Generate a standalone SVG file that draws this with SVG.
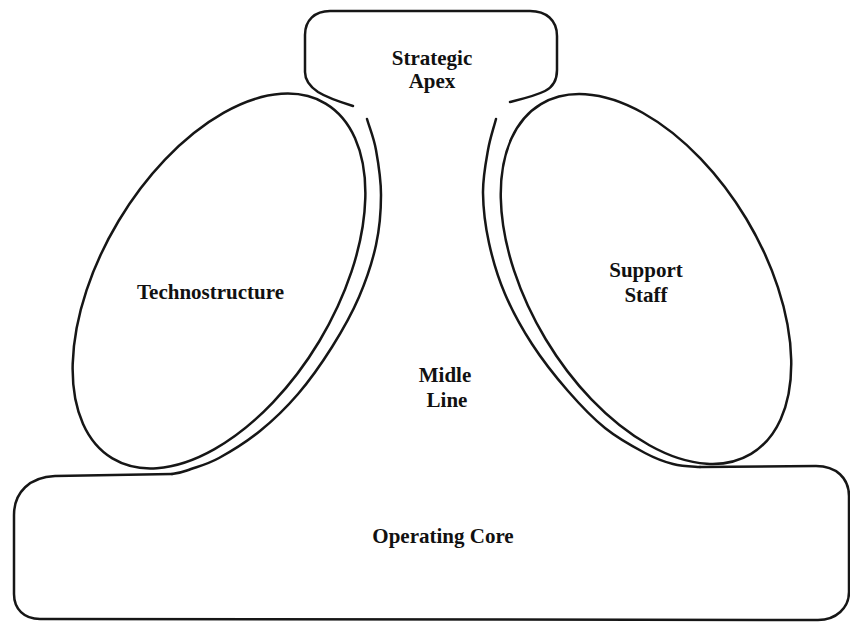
<svg xmlns="http://www.w3.org/2000/svg" width="850" height="625" viewBox="0 0 850 625">
  <style>
    .ln { fill: none; stroke: #161616; stroke-width: 2.5; stroke-linecap: round; stroke-linejoin: round; }
    .lbl { font-family: "Liberation Serif", "Times New Roman", serif; font-weight: bold; font-size: 21px; fill: #111; text-anchor: middle; }
  </style>
  <rect width="850" height="625" fill="#ffffff"/>

  <g id="strategic-apex">
    <path class="ln" d="M353,106 C340,102 326,97 318,92 C309,86 305,80 305,72 L305,35 C305,20 315,11 330,11 L530,11 C546,11 557,20 557,36 L557,70 C557,80 553,87 545,91 C535,96 522,99 510,102"/>
    <text class="lbl" x="432" y="65">Strategic</text>
    <text class="lbl" x="432" y="88">Apex</text>
  </g>

  <g id="technostructure">
    <ellipse class="ln" cx="219" cy="281" rx="117" ry="207" transform="rotate(31 219 281)"/>
    <text class="lbl" x="210.5" y="299">Technostructure</text>
  </g>

  <g id="support-staff">
    <ellipse class="ln" cx="646" cy="279" rx="117" ry="204" transform="rotate(-31 646 279)"/>
    <text class="lbl" x="646" y="277">Support</text>
    <text class="lbl" x="646" y="302">Staff</text>
  </g>

  <g id="middle-line">
    <path class="ln" d="M367,119 C370,129.3 373.7,137.3 376,150 C378.3,162.7 381,179.2 381,195 C381,210.8 379.7,228 376,245 C372.3,262 366.3,280 359,297 C351.7,314 342.2,330.8 332,347 C321.8,363.2 310,380 298,394 C286,408 273.2,420.3 260,431 C246.8,441.7 230.5,451.7 219,458 C207.5,464.3 198.8,466.3 191,469 C183.2,471.7 182.2,472.7 172,474"/>
    <path class="ln" d="M496,119 C493.3,129.3 490.2,137.7 488,150 C485.8,162.3 482.8,177.5 483,193 C483.2,208.5 485.3,226.2 489,243 C492.7,259.8 497.8,277.2 505,294 C512.2,310.8 521.5,327.8 532,344 C542.5,360.2 555.8,377 568,391 C580.2,405 592.2,417.7 605,428 C617.8,438.3 633.7,447 645,453 C656.3,459 663.8,461.7 673,464 C682.2,466.3 688,466.3 700,467"/>
    <text class="lbl" x="445" y="382">Midle</text>
    <text class="lbl" x="447" y="407">Line</text>
  </g>

  <g id="operating-core">
    <path class="ln" d="M172,474 L55,476 C30,477 14,492 14,515 L14,594 C14,609 24,619 40,619 L818,620 C836,620 849,608 849,592 L849,496 C849,478 836,466 816,466 L700,467"/>
    <text class="lbl" x="443" y="543">Operating Core</text>
  </g>

  <g id="connectors"/>
</svg>
